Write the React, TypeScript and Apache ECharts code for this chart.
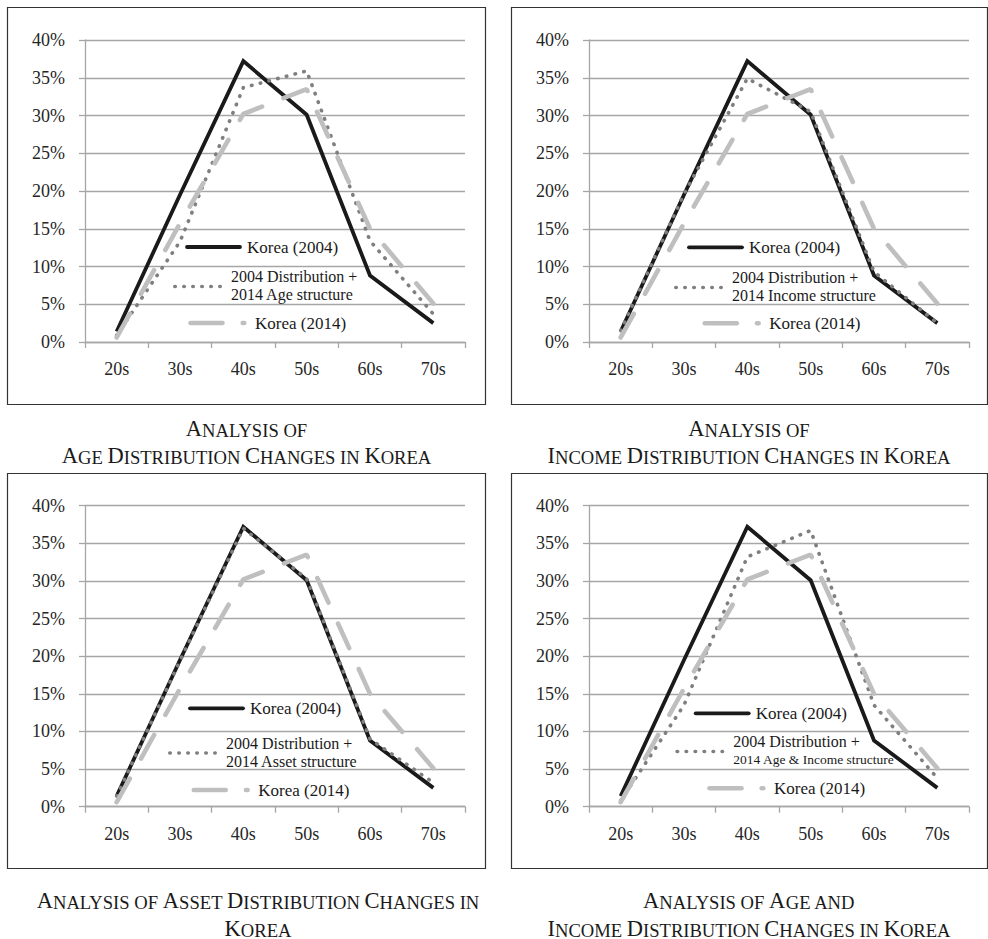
import React, { useEffect, useRef } from 'react';
import * as echarts from 'echarts';

// ---------- data ----------
const categories = ['20s', '30s', '40s', '50s', '60s', '70s'];
const korea2004 = [1.4, 19.5, 37.2, 30.1, 8.8, 2.5];
const korea2014 = [0.6, 15.7, 30.2, 33.5, 15.0, 5.1];
const ageStructure = [0.9, 13.3, 33.7, 35.9, 13.4, 3.7];
const incomeStructure = [1.5, 19.6, 34.9, 30.5, 9.3, 2.5];
const assetStructure = [1.4, 19.4, 37.0, 30.3, 9.0, 3.2];
const ageIncomeStructure = [0.8, 13.5, 33.2, 36.7, 13.5, 3.8];

const yMin = 0;
const yMax = 40;
const yStep = 5;

const nameKorea2004 = 'Korea (2004)';
const nameKorea2014 = 'Korea (2014)';
const dottedFirstLine = '2004 Distribution +';
const dottedSecondLines = [
  '2014 Age structure',
  '2014 Income structure',
  '2014 Asset structure',
  '2014 Age & Income structure',
];
const dottedData = [ageStructure, incomeStructure, assetStructure, ageIncomeStructure];
const panelTitles = [
  ['Analysis of', 'Age Distribution Changes in Korea'],
  ['Analysis of', 'Income Distribution Changes in Korea'],
  ['Analysis of Asset Distribution Changes in', 'Korea'],
  ['Analysis of Age and', 'Income Distribution Changes in Korea'],
];

// ---------- layout ----------
const FONT = '"Liberation Serif", "Times New Roman", serif';
const panels = [
  {
    grid: { left: 85, top: 40, width: 380, height: 302 },
    box: [7.5, 7.5, 478, 397],
    titleX: 246.5, titleY: [428, 455],
    lg: { bx: 247, by: 247, dx: 231, dy: 285.5, ex: 255, ey: 323 },
    dotSizes: [16, 16],
  },
  {
    grid: { left: 589, top: 40, width: 380, height: 302 },
    box: [511.5, 7.5, 476, 397],
    titleX: 749, titleY: [428, 455],
    lg: { bx: 749, by: 247.3, dx: 732, dy: 286.5, ex: 769.3, ey: 323.3 },
    dotSizes: [16, 16],
  },
  {
    grid: { left: 85, top: 505.7, width: 380, height: 301 },
    box: [7.5, 473.5, 478, 395],
    titleX: 258, titleY: [900.7, 928],
    lg: { bx: 250, by: 708.3, dx: 226, dy: 752, ex: 258.3, ey: 790 },
    dotSizes: [16, 16],
  },
  {
    grid: { left: 589, top: 505.7, width: 380, height: 301 },
    box: [511.5, 473.5, 476, 395],
    titleX: 749, titleY: [900.7, 928],
    lg: { bx: 755.7, by: 713.3, dx: 733.3, dy: 750.5, ex: 774, ey: 788.3 },
    dotSizes: [16, 13.5],
  },
];

const BLACK = '#1a1a1a';
const DOT = '#7f7f7f';
const DASH = '#bfbfbf';
const GRID = '#a6a6a6';
const TEXT = '#1a1a1a';

function smallCaps(s: string): string {
  let out = '';
  let cur = '';
  let curType = '';
  for (const ch of s) {
    const type = ch >= 'A' && ch <= 'Z' ? 'B' : 's';
    if (type !== curType && cur) {
      out += `{${curType}|${cur}}`;
      cur = '';
    }
    curType = type;
    cur += ch.toUpperCase();
  }
  if (cur) out += `{${curType}|${cur}}`;
  return out;
}

const titleRich = {
  B: { fontSize: 22.5, fontFamily: FONT, fill: TEXT, verticalAlign: 'bottom' },
  s: { fontSize: 18.6, fontFamily: FONT, fill: TEXT, verticalAlign: 'bottom' },
};

function buildOption() {
  const grid: any[] = [];
  const xAxis: any[] = [];
  const yAxis: any[] = [];
  const series: any[] = [];
  const graphic: any[] = [];

  panels.forEach((p, i) => {
    grid.push({ ...p.grid, containLabel: false, outerBoundsMode: 'none' });
    xAxis.push({
      gridIndex: i,
      type: 'category',
      data: categories,
      boundaryGap: true,
      axisLine: { show: true, lineStyle: { color: GRID, width: 1.3 } },
      axisTick: { show: true, length: 6, lineStyle: { color: GRID, width: 1.3 } },
      axisLabel: { color: '#262626', fontFamily: FONT, fontSize: 18, margin: 18 },
      splitLine: { show: false },
    });
    yAxis.push({
      gridIndex: i,
      type: 'value',
      min: yMin,
      max: yMax,
      interval: yStep,
      axisLine: { show: true, lineStyle: { color: GRID, width: 1.3 } },
      axisTick: { show: true, length: 6, lineStyle: { color: GRID, width: 1.3 } },
      axisLabel: { color: '#262626', fontFamily: FONT, fontSize: 18, margin: 20, formatter: '{value}%' },
      splitLine: { show: true, lineStyle: { color: GRID, width: 1.3 } },
    });
    series.push({
      name: nameKorea2004,
      type: 'line',
      xAxisIndex: i,
      yAxisIndex: i,
      data: korea2004,
      symbol: 'none',
      silent: true,
      z: 2,
      lineStyle: { color: BLACK, width: 3.8, join: 'miter' },
    });
    series.push({
      name: dottedFirstLine + ' ' + dottedSecondLines[i],
      type: 'line',
      xAxisIndex: i,
      yAxisIndex: i,
      data: dottedData[i],
      symbol: 'none',
      silent: true,
      z: 3,
      lineStyle: { color: DOT, width: 3.6, type: [0.5, 8.5], cap: 'round' },
    });
    series.push({
      name: nameKorea2014,
      type: 'line',
      xAxisIndex: i,
      yAxisIndex: i,
      data: korea2014,
      symbol: 'none',
      silent: true,
      z: 4,
      lineStyle: { color: DASH, width: 4.6, type: [27, 23], cap: 'round' },
    });

    // border box
    graphic.push({
      type: 'rect',
      shape: { x: p.box[0], y: p.box[1], width: p.box[2], height: p.box[3] },
      style: { fill: 'none', stroke: '#333', lineWidth: 1.2 },
      silent: true,
      z: 1,
    });

    const lg = p.lg;
    // legend: black
    graphic.push({
      type: 'line',
      shape: { x1: lg.bx - 60, y1: lg.by, x2: lg.bx - 7, y2: lg.by },
      style: { stroke: BLACK, lineWidth: 3.8, lineCap: 'round' },
      z: 50,
    });
    graphic.push({
      type: 'text',
      x: lg.bx,
      y: lg.by,
      style: { text: nameKorea2004, fontSize: 17, fontFamily: FONT, fill: TEXT, textAlign: 'left', textVerticalAlign: 'middle' },
      z: 50,
    });
    // legend: dotted
    graphic.push({
      type: 'line',
      shape: { x1: lg.dx - 56.2, y1: lg.dy + 1, x2: lg.dx - 10.8, y2: lg.dy + 1 },
      style: { stroke: DOT, lineWidth: 3.6, lineCap: 'round', lineDash: [0.5, 8.5] },
      z: 50,
    });
    graphic.push({
      type: 'text',
      x: lg.dx,
      y: lg.dy - 9,
      style: { text: dottedFirstLine, fontSize: p.dotSizes[0], fontFamily: FONT, fill: TEXT, textAlign: 'left', textVerticalAlign: 'middle' },
      z: 50,
    });
    graphic.push({
      type: 'text',
      x: lg.dx,
      y: lg.dy + 9,
      style: { text: dottedSecondLines[i], fontSize: p.dotSizes[1], fontFamily: FONT, fill: TEXT, textAlign: 'left', textVerticalAlign: 'middle' },
      z: 50,
    });
    // legend: dashed
    graphic.push({
      type: 'line',
      shape: { x1: lg.ex - 64.5, y1: lg.ey, x2: lg.ex - 32.5, y2: lg.ey },
      style: { stroke: DASH, lineWidth: 4.6, lineCap: 'round' },
      z: 50,
    });
    graphic.push({
      type: 'line',
      shape: { x1: lg.ex - 12.3, y1: lg.ey, x2: lg.ex - 10.7, y2: lg.ey },
      style: { stroke: DASH, lineWidth: 4.6, lineCap: 'round' },
      z: 50,
    });
    graphic.push({
      type: 'text',
      x: lg.ex,
      y: lg.ey,
      style: { text: nameKorea2014, fontSize: 17, fontFamily: FONT, fill: TEXT, textAlign: 'left', textVerticalAlign: 'middle' },
      z: 50,
    });

    // captions
    panelTitles[i].forEach((t, k) => {
      graphic.push({
        type: 'text',
        x: p.titleX,
        y: p.titleY[k],
        style: {
          text: smallCaps(t),
          rich: titleRich,
          textAlign: 'center',
          textVerticalAlign: 'middle',
        },
        z: 50,
      });
    });
  });

  return {
    animation: false,
    backgroundColor: '#ffffff',
    grid,
    xAxis,
    yAxis,
    series,
    graphic,
  };
}

export default function App() {
  const ref = useRef<HTMLDivElement>(null);
  useEffect(() => {
    if (!ref.current) return;
    const chart = echarts.init(ref.current, undefined, { renderer: 'svg' });
    chart.setOption(buildOption() as any);
    return () => chart.dispose();
  }, []);
  return (
    <div
      ref={ref}
      style={{ position: 'absolute', left: 0, top: 0, width: 988, height: 939, background: '#fff' }}
    />
  );
}
